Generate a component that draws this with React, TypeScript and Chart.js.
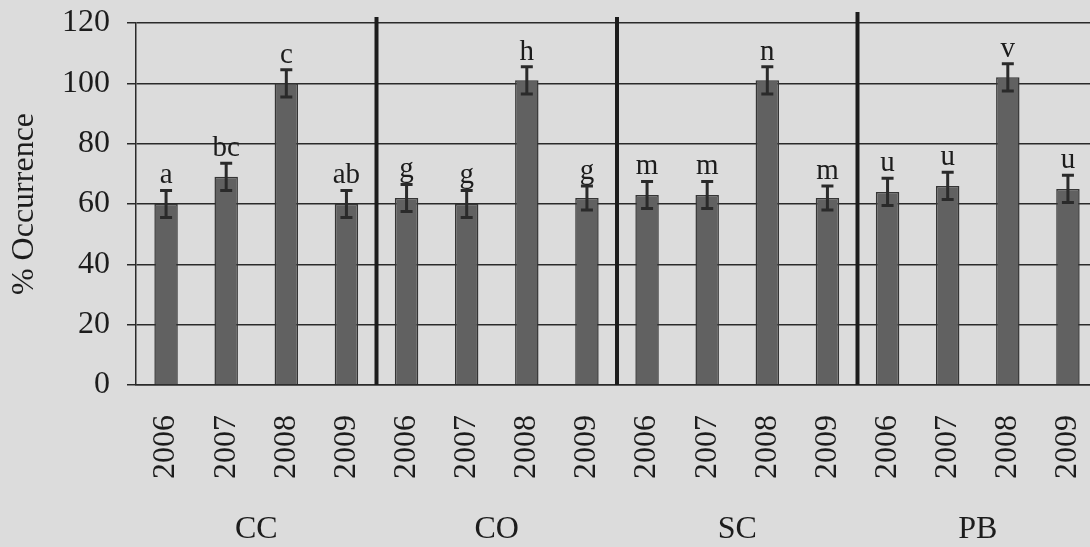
import { useEffect, useRef } from 'react';
import { Chart, registerables } from 'chart.js';

Chart.register(...registerables);

// Sites and sampling years
const groups = ['CC', 'CO', 'SC', 'PB'];
const years = ['2006', '2007', '2008', '2009'];

// % occurrence per site/year (site-major order)
const occurrence = [60, 69, 100, 60, 62, 60, 101, 62, 63, 63, 101, 62, 64, 66, 102, 65];
// error bar half-widths
const stdError = [4.5, 4.5, 4.5, 4.5, 4.5, 4.5, 4.5, 4, 4.5, 4.5, 4.5, 4, 4.5, 4.5, 4.5, 4.5];
// significance letters
const letters = ['a', 'bc', 'c', 'ab', 'g', 'g', 'h', 'g', 'm', 'm', 'n', 'm', 'u', 'u', 'v', 'u'];

const yMin = 0;
const yMax = 120;
const yStep = 20;

const labels = groups.flatMap(() => years);

const SERIF = '"Liberation Serif", "Times New Roman", serif';
const INK = '#1c1c1c';
const LINE = '#2a2a2a';

const overlayPlugin = {
  id: 'overlay',
  afterDatasetsDraw(chart: any) {
    const { ctx, chartArea, scales } = chart;
    const x = scales.x;
    const y = scales.y;
    ctx.save();

    // error bars and letters
    occurrence.forEach((v, i) => {
      const cx = x.getPixelForValue(i);
      const yTop = y.getPixelForValue(v + stdError[i]);
      const yBot = y.getPixelForValue(v - stdError[i]);
      ctx.strokeStyle = LINE;
      ctx.lineWidth = 3;
      ctx.beginPath();
      ctx.moveTo(cx, yTop);
      ctx.lineTo(cx, yBot);
      ctx.moveTo(cx - 6, yTop);
      ctx.lineTo(cx + 6, yTop);
      ctx.moveTo(cx - 6, yBot);
      ctx.lineTo(cx + 6, yBot);
      ctx.stroke();

      ctx.fillStyle = INK;
      ctx.font = `29px ${SERIF}`;
      ctx.textAlign = 'center';
      ctx.textBaseline = 'alphabetic';
      ctx.fillText(letters[i], cx, yTop - 7);
    });

    // thick separators between sites
    ctx.strokeStyle = '#1c1c1c';
    ctx.lineWidth = 4;
    for (let g = 1; g < groups.length; g++) {
      const sx = (x.getPixelForValue(g * years.length - 1) + x.getPixelForValue(g * years.length)) / 2;
      const ext = g === groups.length - 1 ? 11 : 6;
      ctx.beginPath();
      ctx.moveTo(sx, chartArea.bottom);
      ctx.lineTo(sx, chartArea.top - ext);
      ctx.stroke();
    }

    // site names
    ctx.fillStyle = INK;
    ctx.font = `32px ${SERIF}`;
    ctx.textAlign = 'center';
    ctx.textBaseline = 'middle';
    groups.forEach((g, gi) => {
      const a = x.getPixelForValue(gi * years.length + 1);
      const b = x.getPixelForValue(gi * years.length + 2);
      ctx.fillText(g, (a + b) / 2, chartArea.bottom + 145);
    });

    ctx.restore();
  },
};

export default function App() {
  const canvasRef = useRef<HTMLCanvasElement>(null);

  useEffect(() => {
    if (!canvasRef.current) return;
    const chart = new Chart(canvasRef.current, {
      type: 'bar',
      data: {
        labels,
        datasets: [
          {
            data: occurrence,
            backgroundColor: '#616161',
            borderColor: '#353535',
            borderWidth: 1.5,
            barPercentage: 0.39,
            categoryPercentage: 1,
          },
        ],
      },
      options: {
        animation: false,
        responsive: false,
        devicePixelRatio: 1,
        layout: { padding: { top: 23, left: 0, right: 0, bottom: 0 } },
        plugins: {
          legend: { display: false },
          tooltip: { enabled: false },
        },
        scales: {
          x: {
            grid: { display: false },
            border: { display: true, color: LINE, width: 1.5 },
            ticks: {
              autoSkip: false,
              maxRotation: 90,
              minRotation: 90,
              color: INK,
              font: { family: SERIF, size: 32 },
              padding: 22,
            },
            afterFit(s: any) {
              s.height = 162;
              s.paddingLeft = 0;
              s.paddingRight = 0;
            },
          },
          y: {
            min: yMin,
            max: yMax,
            ticks: {
              stepSize: yStep,
              color: INK,
              font: { family: SERIF, size: 32 },
              padding: 17,
            },
            grid: { color: LINE, lineWidth: 1.5, tickLength: 9, drawTicks: true },
            border: { display: true, color: LINE, width: 1.5 },
            title: {
              display: true,
              text: '% Occurrence',
              color: INK,
              font: { family: SERIF, size: 32 },
              padding: { top: 5, bottom: 0 },
            },
            afterFit(s: any) {
              s.width = 136;
              s.paddingTop = 0;
              s.paddingBottom = 0;
            },
          },
        },
      },
      plugins: [overlayPlugin],
    });
    return () => chart.destroy();
  }, []);

  return (
    <div
      style={{
        position: 'fixed',
        left: 0,
        top: 0,
        width: 1090,
        height: 547,
        overflow: 'hidden',
        background: '#dcdcdc',
      }}
    >
      <canvas ref={canvasRef} width={1098} height={547} style={{ display: 'block' }} />
    </div>
  );
}
